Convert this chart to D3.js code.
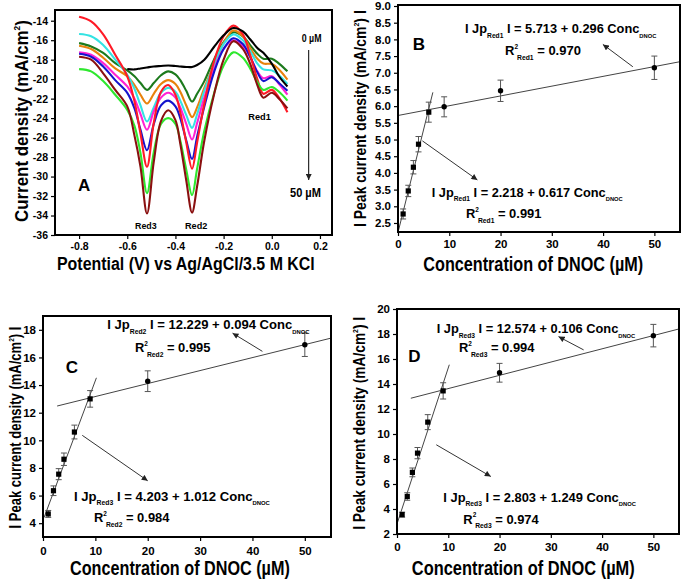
<!DOCTYPE html>
<html>
<head>
<meta charset="utf-8">
<script src="https://cdn.jsdelivr.net/npm/d3@7"></script>
<style>
  html, body { margin: 0; padding: 0; background: #fff; }
  svg { display: block; font-family: "Liberation Sans", Arial, Helvetica, sans-serif; }
  text { white-space: pre; }
</style>
</head>
<body>
<script>
// ---------------- DATA ----------------
// Panel A : DPV curves (potential in V, current density in mA/cm2)
const potentials = [-0.8,-0.75,-0.7,-0.65,-0.6,-0.57,-0.545,-0.518,-0.49,-0.46,-0.43,-0.40,-0.38,-0.355,-0.331,-0.31,-0.28,-0.24,-0.20,-0.16,-0.12,-0.09,-0.06,-0.035,0.0,0.03,0.065];
const seriesNames = ["0 µM","1 µM","2 µM","3 µM","4 µM","6 µM","9 µM","20 µM","50 µM"];
const seriesColors = ["#000000","#1c7a1c","#e8820c","#33e3e3","#ff22d4","#1414cc","#ff1a26","#2ee82e","#8a1010"];
const curve0  = [null,null,null,null,-18.95,-19.0,-18.9,-18.8,-18.7,-18.65,-18.6,-18.65,-18.7,-18.75,-18.75,-18.55,-18.0,-16.7,-15.5,-14.75,-15.1,-15.9,-16.8,-17.3,-18.4,-19.7,-20.75];
const curve1  = [-16.3,-16.64,-17.3,-18.35,-19.1,-19.7,-20.4,-21.1,-20.4,-19.6,-19.2,-19.5,-20.1,-21.2,-22.3,-21.5,-20.2,-18.0,-16.2,-15.2,-15.6,-16.5,-17.4,-17.9,-17.9,-18.4,-19.2];
const curve2  = [-16.57,-16.9,-17.8,-18.9,-19.7,-20.6,-21.6,-22.5,-21.5,-20.5,-20.1,-20.5,-21.3,-22.7,-23.9,-22.9,-20.9,-18.5,-16.3,-15.0,-15.6,-16.8,-17.9,-18.4,-18.45,-19.0,-20.05];
const curve3  = [-15.37,-15.6,-16.5,-18.0,-19.55,-21.0,-22.7,-24.35,-22.9,-21.4,-20.9,-21.3,-22.2,-23.7,-25.0,-23.6,-21.2,-18.5,-16.4,-15.4,-16.0,-17.1,-18.4,-19.0,-19.1,-19.6,-20.5];
const curve4  = [-17.25,-17.5,-18.35,-19.55,-20.75,-22.0,-23.6,-25.2,-23.3,-21.9,-21.4,-21.9,-22.9,-24.6,-26.2,-24.5,-21.9,-19.0,-16.9,-16.0,-16.6,-17.7,-19.2,-19.9,-19.7,-20.5,-21.6];
const curve6  = [-17.4,-17.7,-18.7,-20.1,-21.4,-23.0,-25.2,-27.3,-24.6,-22.7,-22.2,-22.8,-24.0,-26.3,-28.2,-25.9,-22.8,-19.3,-16.9,-15.8,-16.4,-17.7,-19.3,-20.2,-19.8,-20.4,-21.2];
const curve9  = [-13.6,-14.07,-15.4,-17.5,-19.7,-22.3,-25.6,-29.0,-24.5,-21.3,-20.6,-21.6,-23.4,-26.5,-29.2,-26.5,-22.5,-18.2,-15.6,-14.5,-15.4,-17.5,-20.0,-21.5,-21.1,-21.9,-23.4];
const curve20 = [-18.97,-19.2,-20.2,-21.6,-23.15,-24.8,-27.6,-31.7,-27.5,-24.6,-24.0,-24.6,-26.3,-29.3,-31.9,-29.2,-25.3,-21.5,-18.6,-17.25,-17.8,-18.9,-20.3,-21.1,-20.8,-21.3,-22.2];
const curve50 = [-17.7,-18.0,-19.4,-21.1,-22.8,-25.8,-29.0,-33.8,-28.5,-24.3,-23.2,-24.2,-26.6,-30.4,-33.7,-31.0,-26.3,-21.6,-18.0,-16.1,-16.9,-18.4,-20.6,-21.9,-21.4,-22.0,-23.0];
const curvesA = [curve0,curve1,curve2,curve3,curve4,curve6,curve9,curve20,curve50];
const ticksAx = [-0.8,-0.6,-0.4,-0.2,0.0,0.2];
const ticksAy = [-14,-16,-18,-20,-22,-24,-26,-28,-30,-32,-34,-36];

// Panels B, C, D : calibration (concentration of DNOC in µM)
const concentrations = [1,2,3,4,6,9,20,50];
const peakRed1 = [2.77,3.46,4.17,4.86,5.82,5.98,6.46,7.15];
const errRed1  = [0.15,0.17,0.2,0.23,0.3,0.3,0.32,0.35];
const peakRed2 = [4.67,6.35,7.55,8.63,10.6,13.0,14.28,16.92];
const errRed2  = [0.25,0.35,0.4,0.45,0.5,0.6,0.75,0.85];
const peakRed3 = [3.55,5.0,6.93,8.47,10.95,13.45,14.9,17.87];
const errRed3  = [0.2,0.3,0.35,0.45,0.6,0.65,0.75,0.9];
const lowRangeCount = [5,6,6]; // points of the low-concentration segment (B, C, D)
// fitted lines: intercept, slope, from, to
const fitRed1 = [[2.218,0.617,0,6.8],[5.72,0.0293,0,55]];
const fitRed2 = [[4.203,1.012,0.2,10.2],[12.229,0.094,2.7,55]];
const fitRed3 = [[2.803,1.249,0.1,10.2],[12.574,0.106,2.7,55]];
const ticksConc = [0,10,20,30,40,50];
const ticksB = [2.5,3.0,3.5,4.0,4.5,5.0,5.5,6.0,6.5,7.0,7.5,8.0,8.5,9.0];
const ticksC = [4,6,8,10,12,14,16,18];
const ticksD = [2,4,6,8,10,12,14,16,18,20];

// ---------------- DRAWING ----------------
const svg = d3.select("body").append("svg").attr("width",683).attr("height",580);
const defs = svg.append("defs");
defs.append("marker").attr("id","ah").attr("viewBox","0 0 10 10")
  .attr("refX",10).attr("refY",5).attr("markerUnits","userSpaceOnUse")
  .attr("markerWidth",7).attr("markerHeight",6).attr("orient","auto")
  .append("path").attr("d","M0,0 L10,5 L0,10 z").attr("fill","#222");

function rich(parent, x, y, parts, size, width, opts) {
  opts = opts || {};
  const g = parent.append("g").attr("transform",
    `translate(${x},${y})` + (opts.rotate ? ` rotate(${opts.rotate}) translate(0,${size*0.36})` : ""));
  const inner = g.append("g");
  const t = inner.append("text").attr("font-size", size).attr("font-weight","bold").attr("fill","#000");
  let off = 0;
  parts.forEach(p => {
    let target = 0, fs = size;
    if (p.sub) { target = size*0.34; fs = size*(p.small || 0.52); }
    else if (p.sup) { target = -size*0.45; fs = size*0.5; }
    const ts = t.append("tspan").text(p.t).attr("font-size", fs).attr("dy", target - off);
    if (p.dx) ts.attr("dx", p.dx);
    off = target;
  });
  const bb = t.node().getBBox();
  const sx = width ? width / bb.width : 1;
  const shift = opts.anchor === "middle" ? -(bb.x + bb.width/2) : -bb.x;
  inner.attr("transform", `scale(${sx},1) translate(${shift},0)`);
  return g;
}

function axesFrame(g, box, xs, ys, xt, yt, xf, yf, fs, xpad) {
  const ax = g.append("g").attr("transform",`translate(0,${box.y1})`)
    .call(d3.axisBottom(xs).tickValues(xt).tickSize(4).tickPadding(xpad).tickFormat(xf));
  const ay = g.append("g").attr("transform",`translate(${box.x0},0)`)
    .call(d3.axisLeft(ys).tickValues(yt).tickSize(4).tickPadding(3).tickFormat(yf));
  [ax, ay].forEach(a => {
    a.select(".domain").remove();
    a.selectAll("line").attr("stroke","#000").attr("stroke-width",1.2);
    a.selectAll("text").attr("font-size",fs).attr("font-weight","bold").attr("fill","#000")
      .attr("font-family",'"Liberation Sans", Arial, sans-serif');
  });
  g.append("rect").attr("x",box.x0).attr("y",box.y0)
    .attr("width",box.x1-box.x0).attr("height",box.y1-box.y0)
    .attr("fill","none").attr("stroke","#000").attr("stroke-width",2);
}

// ----- Panel A -----
(function(){
  const box = {x0:55, x1:332, y0:10, y1:235};
  const g = svg.append("g");
  const xs = d3.scaleLinear().domain([-0.9,0.25]).range([box.x0,box.x1]);
  const ys = d3.scaleLinear().domain([-36,-12.9]).range([box.y1,box.y0]);
  defs.append("clipPath").attr("id","clipA").append("rect")
    .attr("x",box.x0).attr("y",box.y0).attr("width",box.x1-box.x0).attr("height",box.y1-box.y0);
  const line = d3.line().defined(d => d[1] !== null)
    .x(d => xs(d[0])).y(d => ys(d[1])).curve(d3.curveCatmullRom.alpha(0.5));
  const order = [1,2,3,4,5,6,7,8,0];
  const cg = g.append("g").attr("clip-path","url(#clipA)");
  order.forEach(i => {
    cg.append("path").datum(potentials.map((v,k) => [v, curvesA[i][k]]))
      .attr("d", line).attr("fill","none").attr("stroke", seriesColors[i])
      .attr("stroke-width",2.1).attr("stroke-linejoin","round").attr("class","s-"+i);
  });
  axesFrame(g, box, xs, ys, ticksAx, ticksAy, d => d.toFixed(1), d => String(d), 10.5, 4);
  // annotations
  rich(g, 301.7, 41.5, [{t:"0 µM"}], 10.5, 20);
  rich(g, 290, 196.5, [{t:"50 µM"}], 12, 31);
  g.append("line").attr("x1",308.7).attr("x2",308.7).attr("y1",50).attr("y2",180)
    .attr("stroke","#000").attr("stroke-width",1).attr("marker-end","url(#ah)");
  rich(g, 78, 191, [{t:"A"}], 17, null);
  rich(g, 135, 228.5, [{t:"Red3"}], 9.5, 21.7);
  rich(g, 185, 228.5, [{t:"Red2"}], 9.5, 22.3);
  rich(g, 248.3, 120, [{t:"Red1"}], 9.5, 23.3);
  rich(g, 21.7, 121, [{t:"Current density (mA/cm"},{t:"2",sup:1},{t:")"}], 18.5, 202, {rotate:-90, anchor:"middle"});
  rich(g, 186, 270, [{t:"Potential (V) vs Ag/AgCl/3.5 M KCl"}], 18.5, 258, {anchor:"middle"});
})();

// ----- Calibration panels -----
function calib(cfg) {
  const box = cfg.box;
  const g = svg.append("g");
  const xs = d3.scaleLinear().domain([0,55]).range([box.x0,box.x1]);
  const ys = d3.scaleLinear().domain(cfg.ydom).range([box.y1,box.y0]);
  const cid = "clip" + cfg.id;
  defs.append("clipPath").attr("id",cid).append("rect")
    .attr("x",box.x0).attr("y",box.y0).attr("width",box.x1-box.x0).attr("height",box.y1-box.y0);
  const cg = g.append("g").attr("clip-path",`url(#${cid})`);
  // fit lines
  cfg.fits.forEach(f => {
    cg.append("line").attr("x1",xs(f[2])).attr("y1",ys(f[0]+f[1]*f[2]))
      .attr("x2",xs(f[3])).attr("y2",ys(f[0]+f[1]*f[3]))
      .attr("stroke","#444").attr("stroke-width",1);
  });
  // error bars
  const pts = concentrations.map((c,i) => ({c, v:cfg.vals[i], e:cfg.errs[i], sq: i < cfg.low}));
  const eb = g.append("g").attr("stroke","#555").attr("stroke-width",1);
  pts.forEach(p => {
    eb.append("line").attr("x1",xs(p.c)).attr("x2",xs(p.c)).attr("y1",ys(p.v-p.e)).attr("y2",ys(p.v+p.e));
    [p.v-p.e, p.v+p.e].forEach(v => eb.append("line")
      .attr("x1",xs(p.c)-3).attr("x2",xs(p.c)+3).attr("y1",ys(v)).attr("y2",ys(v)));
  });
  g.selectAll(".sq").data(pts.filter(p=>p.sq)).enter().append("rect")
    .attr("x",p=>xs(p.c)-2.6).attr("y",p=>ys(p.v)-2.6).attr("width",5.2).attr("height",5.2).attr("fill","#000");
  g.selectAll(".ci").data(pts.filter(p=>!p.sq)).enter().append("circle")
    .attr("cx",p=>xs(p.c)).attr("cy",p=>ys(p.v)).attr("r",2.7).attr("fill","#000");
  axesFrame(g, box, xs, ys, ticksConc, cfg.yticks, d => String(d), cfg.yfmt, 11.5, cfg.xpad);
  // arrows
  cfg.arrows.forEach(a => {
    g.append("line").attr("x1",xs(a[0])).attr("y1",ys(a[1])).attr("x2",xs(a[2])).attr("y2",ys(a[3]))
      .attr("stroke","#333").attr("stroke-width",1).attr("marker-end","url(#ah)");
  });
  // texts
  rich(g, cfg.letter[0], cfg.letter[1], [{t:cfg.id}], 17, null);
  cfg.eqs.forEach(e => {
    rich(g, e.x, e.y, [{t:"I Jp"},{t:cfg.peakNames[e.k],sub:1},{t:" I = "+e.eq+" Conc"},{t:"DNOC",sub:1,small:0.45}], 13.5, e.w);
    rich(g, e.rx, e.ry, [{t:"R"},{t:"2",sup:1},{t:cfg.rNames[e.k],sub:1,dx:-1},{t:" = "+e.r2}], 13.5, 76);
  });
  rich(g, cfg.ytitle[0], cfg.ytitle[1], [{t:"I Peak current density (mA/cm"},{t:"2",sup:1},{t:") I"}], 16, cfg.ytitle[2], {rotate:-90, anchor:"middle"});
  rich(g, cfg.xtitle[0], cfg.xtitle[1], [{t:"Concentration of DNOC (µM)"}], 20, cfg.xtitle[2], {anchor:"middle"});
}

calib({
  id:"B", box:{x0:398, x1:680, y0:5, y1:232}, ydom:[2.23,9.03],
  vals:peakRed1, errs:errRed1, low:lowRangeCount[0], fits:fitRed1,
  yticks:ticksB, yfmt:d3.format(".1f"), xpad:4,
  arrows:[[45.8,7.18,39.96,7.85],[4.76,4.96,15.48,3.79]],
  letter:[412.7,50], peakNames:["Red1","Red1"], rNames:["Red1","Red1"],
  eqs:[{k:1,x:465,y:33,w:192,eq:"5.713 + 0.296",rx:505,ry:55,r2:"0.970"},
       {k:0,x:431.7,y:196.5,w:191.7,eq:"2.218 + 0.617",rx:466,ry:218,r2:"0.991"}],
  ytitle:[360.7,118.5,217], xtitle:[533.3,271,220]
});
calib({
  id:"C", box:{x0:43, x1:331, y0:316, y1:537}, ydom:[3,19],
  vals:peakRed2, errs:errRed2, low:lowRangeCount[1], fits:fitRed2,
  yticks:ticksC, yfmt:d => String(d), xpad:6,
  arrows:[[41.9,16.44,36.2,17.76],[7.5,10.36,20.0,7.07]],
  letter:[65.7,373], peakNames:["Red3","Red2"], rNames:["Red2","Red2"],
  eqs:[{k:1,x:107.3,y:329,w:203,eq:"12.229 + 0.094",rx:135,ry:352,r2:"0.995"},
       {k:0,x:74,y:500.5,w:196.7,eq:"4.203 + 1.012",rx:94,ry:522,r2:"0.984"}],
  ytitle:[15,427.5,202], xtitle:[180,575,220]
});
calib({
  id:"D", box:{x0:397, x1:679, y0:309, y1:534}, ydom:[2,20],
  vals:peakRed3, errs:errRed3, low:lowRangeCount[2], fits:fitRed3,
  yticks:ticksD, yfmt:d => String(d), xpad:5,
  arrows:[[36.4,16.73,31.5,17.79],[7.66,9.14,18.3,6.6]],
  letter:[408.3,362], peakNames:["Red3","Red3"], rNames:["Red3","Red3"],
  eqs:[{k:1,x:436.7,y:333,w:199.3,eq:"12.574 + 0.106",rx:459,ry:352,r2:"0.994"},
       {k:0,x:443.3,y:501.5,w:193.4,eq:"2.803 + 1.249",rx:463.3,ry:523.5,r2:"0.974"}],
  ytitle:[359.3,423.3,213], xtitle:[523.3,575,223]
});
</script>
</body>
</html>
